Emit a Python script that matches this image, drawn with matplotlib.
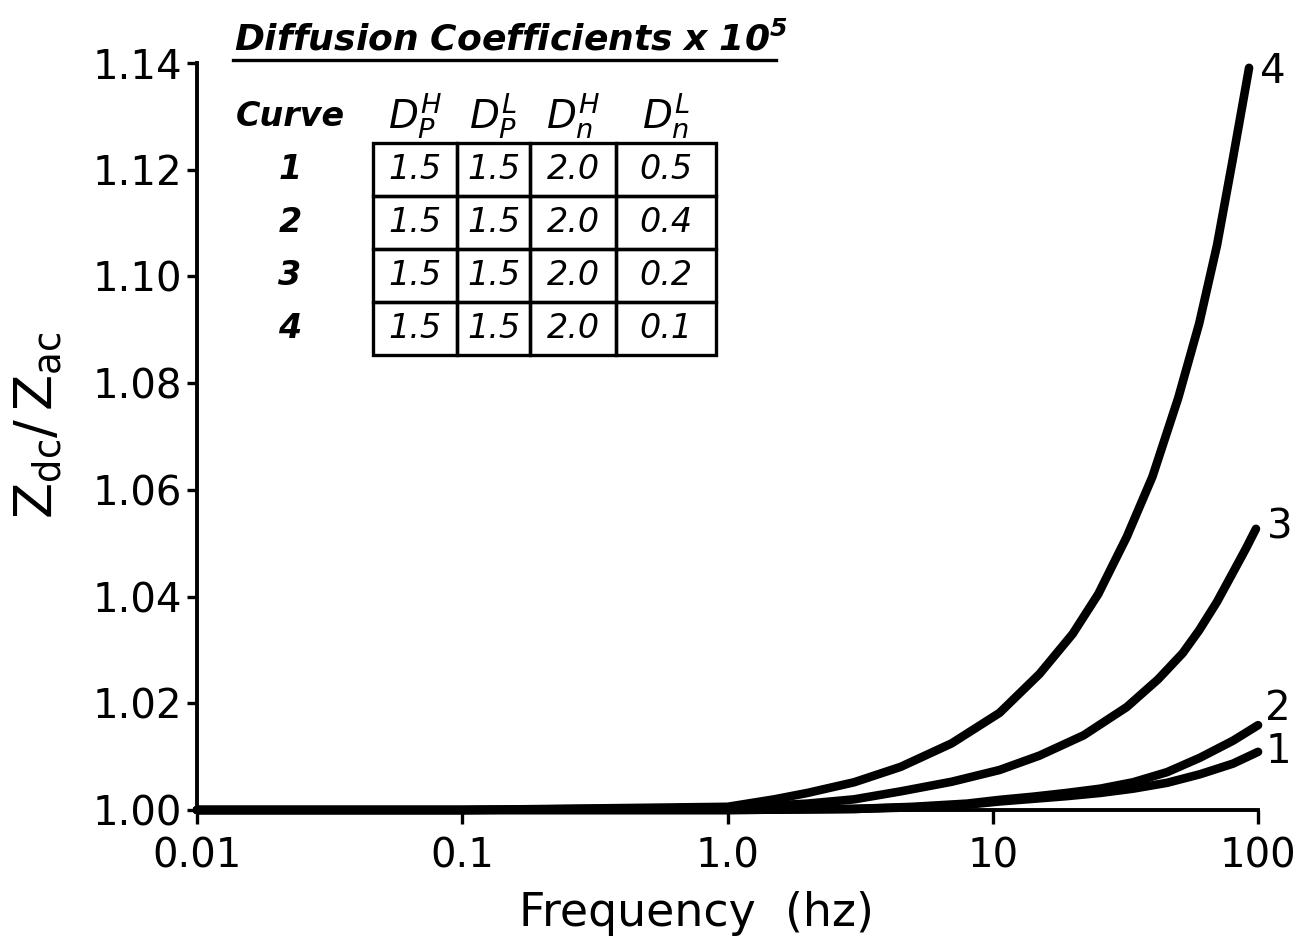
import matplotlib
matplotlib.use('Agg')
import matplotlib.pyplot as plt

plt.rcParams['font.family'] = ['DejaVu Sans']
plt.rcParams['mathtext.fontset'] = 'custom'
plt.rcParams['mathtext.rm'] = 'DejaVu Sans'
plt.rcParams['mathtext.it'] = 'DejaVu Sans:italic'
plt.rcParams['mathtext.bf'] = 'DejaVu Sans:italic:bold'

# ---------------- data ----------------
freq_1 = [0.01, 0.1, 1.0, 3.0, 5.0, 8.0, 10.6, 14.2, 19.0, 25.4, 33.8, 45.4, 60.4, 80.5, 100.0]
ratio_1 = [1.0, 1.0, 1.0, 1.0002, 1.0005, 1.0010, 1.0016, 1.0021, 1.0026, 1.0032, 1.0040,
           1.0051, 1.0067, 1.0087, 1.0109]

freq_2 = [0.01, 0.1, 1.0, 3.0, 5.0, 8.0, 10.6, 14.2, 19.0, 25.4, 33.8, 45.4, 60.4, 80.5, 100.0]
ratio_2 = [1.0, 1.0, 1.0, 1.0002, 1.0006, 1.0012, 1.0019, 1.0025, 1.0032, 1.0040, 1.0052,
           1.0071, 1.0098, 1.0130, 1.0159]

freq_3 = [0.01, 0.1, 1.0, 2.0, 3.0, 4.5, 7.0, 10.6, 15.0, 22.0, 32.0, 42.0, 52.0, 60.0,
          70.0, 80.0, 90.0, 98.2]
ratio_3 = [1.0, 1.0, 1.0004, 1.0012, 1.0020, 1.0035, 1.0053, 1.0075, 1.0102, 1.0140, 1.0193,
           1.0245, 1.0294, 1.0337, 1.0390, 1.0443, 1.0490, 1.0527]

freq_4 = [0.01, 0.1, 1.0, 1.5, 2.0, 3.0, 4.5, 7.0, 10.6, 15.0, 20.0, 25.0, 32.0, 40.0,
          50.0, 60.0, 70.0, 80.0, 92.5]
ratio_4 = [1.0, 1.0, 1.0006, 1.0020, 1.0032, 1.0052, 1.0081, 1.0125, 1.0182, 1.0255, 1.0330,
           1.0405, 1.0512, 1.0625, 1.0772, 1.0912, 1.1058, 1.1215, 1.1391]

curve_ids = ['1', '2', '3', '4']

x_ticks = [0.01, 0.1, 1.0, 10.0, 100.0]
x_tick_labels = ['0.01', '0.1', '1.0', '10', '100']
y_ticks = [1.00, 1.02, 1.04, 1.06, 1.08, 1.10, 1.12, 1.14]
y_tick_labels = ['1.00', '1.02', '1.04', '1.06', '1.08', '1.10', '1.12', '1.14']

table_title = r'$\mathbf{Diffusion\ Coefficients\ x\ 10^5}$'
table_corner = 'Curve'
table_headers = [r'$D_P^H$', r'$D_P^L$', r'$D_n^H$', r'$D_n^L$']
D_p_high = [1.5, 1.5, 1.5, 1.5]
D_p_low = [1.5, 1.5, 1.5, 1.5]
D_n_high = [2.0, 2.0, 2.0, 2.0]
D_n_low = [0.5, 0.4, 0.2, 0.1]

x_label = 'Frequency  (hz)'
y_label = r'$\mathrm{Z_{dc}/\,Z_{ac}}$'

# ---------------- figure ----------------
fig = plt.figure(figsize=(13.03, 9.41), dpi=100)
ax = fig.add_axes([0.1512, 0.1392, 0.8143, 0.7938])

curves = [(freq_1, ratio_1), (freq_2, ratio_2), (freq_3, ratio_3), (freq_4, ratio_4)]
label_offsets = [(20, 0), (20, 16), (24, 1), (24, -4)]
for (f, r), cid, off in zip(curves, curve_ids, label_offsets):
    ax.plot(f, r, color='black', lw=6.2, solid_capstyle='round', solid_joinstyle='round',
            zorder=3, clip_on=False)
    ax.annotate(cid, xy=(f[-1], r[-1]), xytext=off, textcoords='offset pixels',
                ha='center', va='center', fontsize=29, annotation_clip=False)

ax.set_xscale('log')
ax.set_xlim(0.01, 100)
ax.set_ylim(1.00, 1.14)
ax.set_xticks(x_ticks)
ax.set_xticklabels(x_tick_labels)
ax.minorticks_off()
ax.set_yticks(y_ticks)
ax.set_yticklabels(y_tick_labels)

for s in ['top', 'right']:
    ax.spines[s].set_visible(False)
for s in ['left', 'bottom']:
    ax.spines[s].set_linewidth(2.8)

ax.tick_params(axis='x', direction='out', length=10, width=2.4, pad=9, labelsize=29)
ax.tick_params(axis='y', direction='out', length=7.5, width=2.4, pad=3, labelsize=29)

ax.set_xlabel(x_label, fontsize=33)
ax.xaxis.set_label_coords(0.471, -0.108)
ax.set_ylabel(y_label, fontsize=38, va='center')
ax.yaxis.set_label_coords(-0.150, 0.515)

# ---------------- inset table ----------------
rows = [[table_corner, ''] + table_headers]
for cid, a, b, c, d in zip(curve_ids, D_p_high, D_p_low, D_n_high, D_n_low):
    rows.append([cid, ''] + [f'{v:.1f}' for v in (a, b, c, d)])

tab = ax.table(cellText=rows, cellLoc='center',
               colWidths=[100, 33, 84, 73, 86, 100],
               bbox=[0.0405, 0.6091, 0.4486, 0.3548])
tab.auto_set_font_size(False)
tab.set_fontsize(24)
for (r, c), cell in tab.get_celld().items():
    cell.set_linewidth(2.4)
    cell.set_facecolor('none')
    txt = cell.get_text()
    if r == 0 or c < 2:
        cell.visible_edges = 'open'
    if c == 0:
        txt.set_fontstyle('italic')
        txt.set_fontweight('bold')
    elif r > 0:
        txt.set_fontstyle('italic')
    if r == 0 and c >= 2:
        txt.set_fontsize(28)

ax.plot([0.034, 0.546], [1.004, 1.004], transform=ax.transAxes, color='black',
        lw=2.4, clip_on=False)
ax.text(0.296, 1.0174, table_title, transform=ax.transAxes, ha='center',
        va='baseline', fontsize=26)

fig.savefig('out.png', dpi=100, facecolor='white')
